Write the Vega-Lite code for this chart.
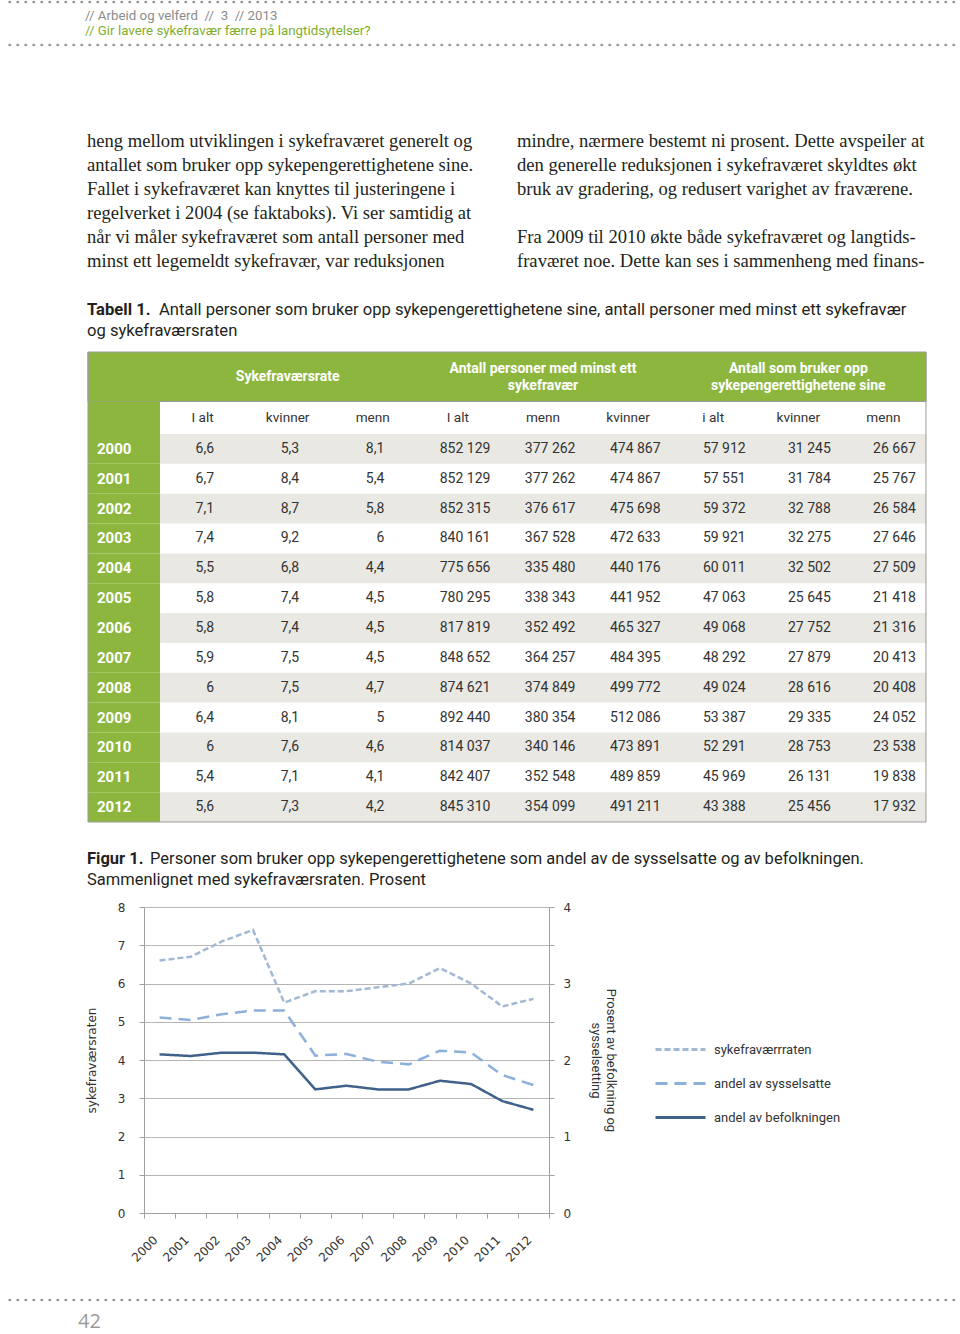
{
  "$schema": "https://vega.github.io/schema/vega-lite/v6.json",
  "background": "white",
  "padding": 0,
  "bounds": "flush",
  "spacing": 0,
  "config": {"view": {"stroke": null}, "font": "Roboto"},
  "resolve": {"scale": {"color": "independent", "strokeDash": "independent"}, "legend": {"color": "independent", "strokeDash": "independent"}},
  "vconcat": [
    {
      "width": 960, "height": 56,
      "data": {"values": [
        {"r": 0, "k": "rule"}, {"r": 3, "k": "rule"},
        {"r": 1, "k": "meta", "c": 0, "t": "// Arbeid og velferd\u00a0 //\u00a0 3\u00a0 // 2013"},
        {"r": 2, "k": "title", "c": 0, "t": "// Gir lavere sykefravær færre på langtidsytelser?"}
      ]},
      "layer": [
        {"transform": [{"filter": "datum.k==='rule'"}],
         "mark": {"type": "rule", "stroke": "#9b9b9b", "strokeWidth": 2.5, "strokeDash": [0.5, 7.5], "strokeCap": "round"},
         "encoding": {"y": {"field": "r", "type": "quantitative", "scale": {"domain": [-0.1395, 3.767], "reverse": true, "nice": false, "zero": false}, "axis": null}}},
        {"transform": [{"filter": "datum.k==='meta'"}],
         "mark": {"type": "text", "align": "left", "baseline": "middle", "font": "Roboto", "fontSize": 13.3, "dx": -3, "color": "#8c8c8c"},
         "encoding": {
           "x": {"field": "c", "type": "quantitative", "scale": {"domain": [-0.2, 2.0326], "nice": false, "zero": false}, "axis": null},
           "y": {"field": "r", "type": "quantitative", "scale": {"domain": [-0.1395, 3.767], "reverse": true, "nice": false, "zero": false}, "axis": null},
           "text": {"field": "t"}}},
        {"transform": [{"filter": "datum.k==='title'"}],
         "mark": {"type": "text", "align": "left", "baseline": "middle", "font": "Roboto", "fontSize": 13.3, "dx": -3, "color": "#7fae2e"},
         "encoding": {
           "x": {"field": "c", "type": "quantitative", "scale": {"domain": [-0.2, 2.0326], "nice": false, "zero": false}, "axis": null},
           "y": {"field": "r", "type": "quantitative", "scale": {"domain": [-0.1395, 3.767], "reverse": true, "nice": false, "zero": false}, "axis": null},
           "text": {"field": "t"}}}
      ]
    },
    {
      "width": 960, "height": 236,
      "data": {"values": [
        {"c": 0, "r": 1, "t": "heng mellom utviklingen i sykefraværet generelt og"},
        {"c": 0, "r": 2, "t": "antallet som bruker opp sykepengerettighetene sine."},
        {"c": 0, "r": 3, "t": "Fallet i sykefraværet kan knyttes til justeringene i"},
        {"c": 0, "r": 4, "t": "regelverket i 2004 (se faktaboks). Vi ser samtidig at"},
        {"c": 0, "r": 5, "t": "når vi måler sykefraværet som antall personer med"},
        {"c": 0, "r": 6, "t": "minst ett legemeldt sykefravær, var reduksjonen"},
        {"c": 1, "r": 1, "t": "mindre, nærmere bestemt ni prosent. Dette avspeiler at"},
        {"c": 1, "r": 2, "t": "den generelle reduksjonen i sykefraværet skyldtes økt"},
        {"c": 1, "r": 3, "t": "bruk av gradering, og redusert varighet av fraværene."},
        {"c": 1, "r": 5, "t": "Fra 2009 til 2010 økte både sykefraværet og langtids-"},
        {"c": 1, "r": 6, "t": "fraværet noe. Dette kan ses i sammenheng med finans-"}
      ]},
      "mark": {"type": "text", "align": "left", "baseline": "middle", "font": "Liberation Serif", "fontSize": 18.6, "dx": -1, "color": "#231f20"},
      "encoding": {
        "x": {"field": "c", "type": "quantitative", "scale": {"domain": [-0.2, 2.0326], "nice": false, "zero": false}, "axis": null},
        "y": {"field": "r", "type": "quantitative", "scale": {"domain": [-2.521, 7.312], "reverse": true, "nice": false, "zero": false}, "axis": null},
        "text": {"field": "t"}
      }
    },
    {
      "width": 960, "height": 51,
      "data": {"values": [
        {"c": 0, "r": 1, "k": "b", "t": "Tabell 1."},
        {"c": 0, "r": 1, "k": "a", "t": "Antall personer som bruker opp sykepengerettighetene sine, antall personer med minst ett sykefravær"},
        {"c": 0, "r": 2, "k": "n", "t": "og sykefraværsraten"}
      ]},
      "encoding": {
        "x": {"field": "c", "type": "quantitative", "scale": {"domain": [-0.2, 2.0326], "nice": false, "zero": false}, "axis": null},
        "y": {"field": "r", "type": "quantitative", "scale": {"domain": [0.1667, 2.595], "reverse": true, "nice": false, "zero": false}, "axis": null},
        "text": {"field": "t"}
      },
      "layer": [
        {"transform": [{"filter": "datum.k==='b'"}], "mark": {"type": "text", "align": "left", "baseline": "middle", "font": "Roboto", "fontSize": 16.6, "fontWeight": "bold", "dx": -1, "color": "#231f20"}},
        {"transform": [{"filter": "datum.k==='a'"}], "mark": {"type": "text", "align": "left", "baseline": "middle", "font": "Roboto", "fontSize": 16.6, "dx": 71, "color": "#231f20"}},
        {"transform": [{"filter": "datum.k==='n'"}], "mark": {"type": "text", "align": "left", "baseline": "middle", "font": "Roboto", "fontSize": 16.6, "dx": -1, "color": "#231f20"}}
      ]
    },
    {
      "width": 960, "height": 91,
      "data": {"values": [
        {"k": "g", "c": 2, "u": 0.5, "t": "Sykefraværsrate"},
        {"k": "g", "c": 5, "u": 0, "t": "Antall personer med minst ett\nsykefravær"},
        {"k": "g", "c": 8, "u": 0, "t": "Antall som bruker opp\nsykepengerettighetene sine"},
        {"k": "s", "c": 1, "u": 3, "t": "I alt"},
        {"k": "s", "c": 2, "u": 3, "t": "kvinner"},
        {"k": "s", "c": 3, "u": 3, "t": "menn"},
        {"k": "s", "c": 4, "u": 3, "t": "I alt"},
        {"k": "s", "c": 5, "u": 3, "t": "menn"},
        {"k": "s", "c": 6, "u": 3, "t": "kvinner"},
        {"k": "s", "c": 7, "u": 3, "t": "i alt"},
        {"k": "s", "c": 8, "u": 3, "t": "kvinner"},
        {"k": "s", "c": 9, "u": 3, "t": "menn"}
      ]},
      "layer": [
        {"data": {"values": [{}]},
         "mark": {"type": "rect", "fill": "#8db63f", "stroke": "#9a9a9a", "strokeWidth": 1},
         "encoding": {
           "x": {"datum": -0.346, "type": "quantitative", "scale": {"domain": [-1.3564, 9.9232], "nice": false, "zero": false}, "axis": null},
           "x2": {"datum": 9.5},
           "y": {"datum": -1, "type": "quantitative", "scale": {"domain": [-1.5455, 3.9697], "reverse": true, "nice": false, "zero": false}, "axis": null},
           "y2": {"datum": 2}}},
        {"data": {"values": [{}]},
         "mark": {"type": "rect", "fill": "#8db63f"},
         "encoding": {
           "x": {"datum": -0.346, "type": "quantitative", "scale": {"domain": [-1.3564, 9.9232], "nice": false, "zero": false}, "axis": null},
           "x2": {"datum": 0.5},
           "y": {"datum": 2, "type": "quantitative", "scale": {"domain": [-1.5455, 3.9697], "reverse": true, "nice": false, "zero": false}, "axis": null},
           "y2": {"datum": 3.9697}}},
        {"data": {"values": [{"e": -0.346}, {"e": 9.5}]},
         "mark": {"type": "rule", "stroke": "#9a9a9a", "strokeWidth": 1},
         "encoding": {
           "x": {"field": "e", "type": "quantitative", "scale": {"domain": [-1.3564, 9.9232], "nice": false, "zero": false}, "axis": null},
           "y": {"datum": -1, "type": "quantitative", "scale": {"domain": [-1.5455, 3.9697], "reverse": true, "nice": false, "zero": false}, "axis": null},
           "y2": {"datum": 3.9697}}},
        {"transform": [{"filter": "datum.k==='g'"}],
         "mark": {"type": "text", "align": "center", "baseline": "middle", "font": "Roboto", "fontSize": 14, "fontWeight": "bold", "color": "white", "lineBreak": "\n", "lineHeight": 17},
         "encoding": {
           "x": {"field": "c", "type": "quantitative", "scale": {"domain": [-1.3564, 9.9232], "nice": false, "zero": false}, "axis": null},
           "y": {"field": "u", "type": "quantitative", "scale": {"domain": [-1.5455, 3.9697], "reverse": true, "nice": false, "zero": false}, "axis": null},
           "text": {"field": "t"}}},
        {"transform": [{"filter": "datum.k==='s'"}],
         "mark": {"type": "text", "align": "center", "baseline": "middle", "font": "Roboto", "fontSize": 13.6, "color": "#333333"},
         "encoding": {
           "x": {"field": "c", "type": "quantitative", "scale": {"domain": [-1.3564, 9.9232], "nice": false, "zero": false}, "axis": null},
           "y": {"field": "u", "type": "quantitative", "scale": {"domain": [-1.5455, 3.9697], "reverse": true, "nice": false, "zero": false}, "axis": null},
           "text": {"field": "t"}}}
      ]
    },
    {
      "width": 960, "height": 388,
      "data": {"values": [
        {"y":"2000","c":1,"t":"6,6"},{"y":"2000","c":2,"t":"5,3"},{"y":"2000","c":3,"t":"8,1"},{"y":"2000","c":4,"t":"852 129"},{"y":"2000","c":5,"t":"377 262"},{"y":"2000","c":6,"t":"474 867"},{"y":"2000","c":7,"t":"57 912"},{"y":"2000","c":8,"t":"31 245"},{"y":"2000","c":9,"t":"26 667"},
        {"y":"2001","c":1,"t":"6,7"},{"y":"2001","c":2,"t":"8,4"},{"y":"2001","c":3,"t":"5,4"},{"y":"2001","c":4,"t":"852 129"},{"y":"2001","c":5,"t":"377 262"},{"y":"2001","c":6,"t":"474 867"},{"y":"2001","c":7,"t":"57 551"},{"y":"2001","c":8,"t":"31 784"},{"y":"2001","c":9,"t":"25 767"},
        {"y":"2002","c":1,"t":"7,1"},{"y":"2002","c":2,"t":"8,7"},{"y":"2002","c":3,"t":"5,8"},{"y":"2002","c":4,"t":"852 315"},{"y":"2002","c":5,"t":"376 617"},{"y":"2002","c":6,"t":"475 698"},{"y":"2002","c":7,"t":"59 372"},{"y":"2002","c":8,"t":"32 788"},{"y":"2002","c":9,"t":"26 584"},
        {"y":"2003","c":1,"t":"7,4"},{"y":"2003","c":2,"t":"9,2"},{"y":"2003","c":3,"t":"6"},{"y":"2003","c":4,"t":"840 161"},{"y":"2003","c":5,"t":"367 528"},{"y":"2003","c":6,"t":"472 633"},{"y":"2003","c":7,"t":"59 921"},{"y":"2003","c":8,"t":"32 275"},{"y":"2003","c":9,"t":"27 646"},
        {"y":"2004","c":1,"t":"5,5"},{"y":"2004","c":2,"t":"6,8"},{"y":"2004","c":3,"t":"4,4"},{"y":"2004","c":4,"t":"775 656"},{"y":"2004","c":5,"t":"335 480"},{"y":"2004","c":6,"t":"440 176"},{"y":"2004","c":7,"t":"60 011"},{"y":"2004","c":8,"t":"32 502"},{"y":"2004","c":9,"t":"27 509"},
        {"y":"2005","c":1,"t":"5,8"},{"y":"2005","c":2,"t":"7,4"},{"y":"2005","c":3,"t":"4,5"},{"y":"2005","c":4,"t":"780 295"},{"y":"2005","c":5,"t":"338 343"},{"y":"2005","c":6,"t":"441 952"},{"y":"2005","c":7,"t":"47 063"},{"y":"2005","c":8,"t":"25 645"},{"y":"2005","c":9,"t":"21 418"},
        {"y":"2006","c":1,"t":"5,8"},{"y":"2006","c":2,"t":"7,4"},{"y":"2006","c":3,"t":"4,5"},{"y":"2006","c":4,"t":"817 819"},{"y":"2006","c":5,"t":"352 492"},{"y":"2006","c":6,"t":"465 327"},{"y":"2006","c":7,"t":"49 068"},{"y":"2006","c":8,"t":"27 752"},{"y":"2006","c":9,"t":"21 316"},
        {"y":"2007","c":1,"t":"5,9"},{"y":"2007","c":2,"t":"7,5"},{"y":"2007","c":3,"t":"4,5"},{"y":"2007","c":4,"t":"848 652"},{"y":"2007","c":5,"t":"364 257"},{"y":"2007","c":6,"t":"484 395"},{"y":"2007","c":7,"t":"48 292"},{"y":"2007","c":8,"t":"27 879"},{"y":"2007","c":9,"t":"20 413"},
        {"y":"2008","c":1,"t":"6"},{"y":"2008","c":2,"t":"7,5"},{"y":"2008","c":3,"t":"4,7"},{"y":"2008","c":4,"t":"874 621"},{"y":"2008","c":5,"t":"374 849"},{"y":"2008","c":6,"t":"499 772"},{"y":"2008","c":7,"t":"49 024"},{"y":"2008","c":8,"t":"28 616"},{"y":"2008","c":9,"t":"20 408"},
        {"y":"2009","c":1,"t":"6,4"},{"y":"2009","c":2,"t":"8,1"},{"y":"2009","c":3,"t":"5"},{"y":"2009","c":4,"t":"892 440"},{"y":"2009","c":5,"t":"380 354"},{"y":"2009","c":6,"t":"512 086"},{"y":"2009","c":7,"t":"53 387"},{"y":"2009","c":8,"t":"29 335"},{"y":"2009","c":9,"t":"24 052"},
        {"y":"2010","c":1,"t":"6"},{"y":"2010","c":2,"t":"7,6"},{"y":"2010","c":3,"t":"4,6"},{"y":"2010","c":4,"t":"814 037"},{"y":"2010","c":5,"t":"340 146"},{"y":"2010","c":6,"t":"473 891"},{"y":"2010","c":7,"t":"52 291"},{"y":"2010","c":8,"t":"28 753"},{"y":"2010","c":9,"t":"23 538"},
        {"y":"2011","c":1,"t":"5,4"},{"y":"2011","c":2,"t":"7,1"},{"y":"2011","c":3,"t":"4,1"},{"y":"2011","c":4,"t":"842 407"},{"y":"2011","c":5,"t":"352 548"},{"y":"2011","c":6,"t":"489 859"},{"y":"2011","c":7,"t":"45 969"},{"y":"2011","c":8,"t":"26 131"},{"y":"2011","c":9,"t":"19 838"},
        {"y":"2012","c":1,"t":"5,6"},{"y":"2012","c":2,"t":"7,3"},{"y":"2012","c":3,"t":"4,2"},{"y":"2012","c":4,"t":"845 310"},{"y":"2012","c":5,"t":"354 099"},{"y":"2012","c":6,"t":"491 211"},{"y":"2012","c":7,"t":"43 388"},{"y":"2012","c":8,"t":"25 456"},{"y":"2012","c":9,"t":"17 932"}
      ]},
      "layer": [
        {"data": {"values": [{"y":"2000","s":1},{"y":"2001","s":0},{"y":"2002","s":1},{"y":"2003","s":0},{"y":"2004","s":1},{"y":"2005","s":0},{"y":"2006","s":1},{"y":"2007","s":0},{"y":"2008","s":1},{"y":"2009","s":0},{"y":"2010","s":1},{"y":"2011","s":0},{"y":"2012","s":1}]},
         "layer": [
           {"mark": {"type": "rect", "fill": "#8db63f"},
            "encoding": {
              "x": {"datum": -0.346, "type": "quantitative", "scale": {"domain": [-1.3564, 9.9232], "nice": false, "zero": false}, "axis": null},
              "x2": {"datum": 0.5},
              "y": {"field": "y", "type": "ordinal", "scale": {"type": "band", "paddingInner": 0, "paddingOuter": 0}, "axis": null}}},
           {"transform": [{"filter": "datum.s===1"}],
            "mark": {"type": "rect", "fill": "#e9e8e3"},
            "encoding": {
              "x": {"datum": 0.5, "type": "quantitative", "scale": {"domain": [-1.3564, 9.9232], "nice": false, "zero": false}, "axis": null},
              "x2": {"datum": 9.5},
              "y": {"field": "y", "type": "ordinal", "scale": {"type": "band", "paddingInner": 0, "paddingOuter": 0}, "axis": null}}},
           {"mark": {"type": "text", "align": "left", "baseline": "middle", "font": "Roboto", "fontSize": 15, "fontWeight": "bold", "color": "white", "dx": 9},
            "encoding": {
              "x": {"datum": -0.346, "type": "quantitative", "scale": {"domain": [-1.3564, 9.9232], "nice": false, "zero": false}, "axis": null},
              "y": {"field": "y", "type": "ordinal", "scale": {"type": "band", "paddingInner": 0, "paddingOuter": 0}, "axis": null},
              "text": {"field": "y"}}}
         ]},
        {"transform": [{"filter": "datum.c<=3"}],
         "mark": {"type": "text", "align": "right", "baseline": "middle", "font": "Roboto", "fontSize": 14, "color": "#333333", "dx": 11.5},
         "encoding": {
           "x": {"field": "c", "type": "quantitative", "scale": {"domain": [-1.3564, 9.9232], "nice": false, "zero": false}, "axis": null},
           "y": {"field": "y", "type": "ordinal", "scale": {"type": "band", "paddingInner": 0, "paddingOuter": 0}, "axis": null},
           "text": {"field": "t"}}},
        {"transform": [{"filter": "datum.c>=4"}],
         "mark": {"type": "text", "align": "right", "baseline": "middle", "font": "Roboto", "fontSize": 14, "color": "#333333", "dx": 32.5},
         "encoding": {
           "x": {"field": "c", "type": "quantitative", "scale": {"domain": [-1.3564, 9.9232], "nice": false, "zero": false}, "axis": null},
           "y": {"field": "y", "type": "ordinal", "scale": {"type": "band", "paddingInner": 0, "paddingOuter": 0}, "axis": null},
           "text": {"field": "t"}}},
        {"data": {"values": [{"e": -0.346}, {"e": 9.5}]},
         "mark": {"type": "rule", "stroke": "#9a9a9a", "strokeWidth": 1},
         "encoding": {
           "x": {"field": "e", "type": "quantitative", "scale": {"domain": [-1.3564, 9.9232], "nice": false, "zero": false}, "axis": null}}},
        {"data": {"values": [{}]},
         "mark": {"type": "rule", "stroke": "#9a9a9a", "strokeWidth": 1},
         "encoding": {
           "x": {"datum": -0.346, "type": "quantitative", "scale": {"domain": [-1.3564, 9.9232], "nice": false, "zero": false}, "axis": null},
           "x2": {"datum": 9.5},
           "y": {"datum": "2012", "type": "ordinal", "bandPosition": 1, "scale": {"type": "band", "paddingInner": 0, "paddingOuter": 0}, "axis": null}}}
      ]
    },
    {
      "width": 960, "height": 85,
      "data": {"values": [
        {"c": 0, "r": 1, "k": "b", "t": "Figur 1."},
        {"c": 0, "r": 1, "k": "a", "t": "Personer som bruker opp sykepengerettighetene som andel av de sysselsatte og av befolkningen."},
        {"c": 0, "r": 2, "k": "n", "t": "Sammenlignet med sykefraværsraten. Prosent"}
      ]},
      "encoding": {
        "x": {"field": "c", "type": "quantitative", "scale": {"domain": [-0.2, 2.0326], "nice": false, "zero": false}, "axis": null},
        "y": {"field": "r", "type": "quantitative", "scale": {"domain": [-0.7857, 3.262], "reverse": true, "nice": false, "zero": false}, "axis": null},
        "text": {"field": "t"}
      },
      "layer": [
        {"transform": [{"filter": "datum.k==='b'"}], "mark": {"type": "text", "align": "left", "baseline": "middle", "font": "Roboto", "fontSize": 16.5, "fontWeight": "bold", "dx": -1, "color": "#231f20"}},
        {"transform": [{"filter": "datum.k==='a'"}], "mark": {"type": "text", "align": "left", "baseline": "middle", "font": "Roboto", "fontSize": 16.5, "dx": 62, "color": "#231f20"}},
        {"transform": [{"filter": "datum.k==='n'"}], "mark": {"type": "text", "align": "left", "baseline": "middle", "font": "Roboto", "fontSize": 16.5, "dx": -1, "color": "#231f20"}}
      ]
    },
    {
      "spacing": 0,
      "bounds": "flush",
      "resolve": {"scale": {"color": "independent", "strokeDash": "independent"}, "legend": {"color": "independent", "strokeDash": "independent"}},
      "hconcat": [
        {"width": 142, "height": 306, "data": {"values": [{}]}, "mark": {"type": "text"}, "encoding": {"text": {"value": ""}}},
        {
          "width": 405, "height": 306,
          "data": {"values": [
            {"year":"2000","series":"sykefraværrraten","axis":"L","v":6.6},
            {"year":"2001","series":"sykefraværrraten","axis":"L","v":6.7},
            {"year":"2002","series":"sykefraværrraten","axis":"L","v":7.1},
            {"year":"2003","series":"sykefraværrraten","axis":"L","v":7.4},
            {"year":"2004","series":"sykefraværrraten","axis":"L","v":5.5},
            {"year":"2005","series":"sykefraværrraten","axis":"L","v":5.8},
            {"year":"2006","series":"sykefraværrraten","axis":"L","v":5.8},
            {"year":"2007","series":"sykefraværrraten","axis":"L","v":5.9},
            {"year":"2008","series":"sykefraværrraten","axis":"L","v":6.0},
            {"year":"2009","series":"sykefraværrraten","axis":"L","v":6.4},
            {"year":"2010","series":"sykefraværrraten","axis":"L","v":6.0},
            {"year":"2011","series":"sykefraværrraten","axis":"L","v":5.4},
            {"year":"2012","series":"sykefraværrraten","axis":"L","v":5.6},
            {"year":"2000","series":"andel av sysselsatte","axis":"R","v":2.555},
            {"year":"2001","series":"andel av sysselsatte","axis":"R","v":2.524},
            {"year":"2002","series":"andel av sysselsatte","axis":"R","v":2.598},
            {"year":"2003","series":"andel av sysselsatte","axis":"R","v":2.646},
            {"year":"2004","series":"andel av sysselsatte","axis":"R","v":2.646},
            {"year":"2005","series":"andel av sysselsatte","axis":"R","v":2.057},
            {"year":"2006","series":"andel av sysselsatte","axis":"R","v":2.079},
            {"year":"2007","series":"andel av sysselsatte","axis":"R","v":1.978},
            {"year":"2008","series":"andel av sysselsatte","axis":"R","v":1.943},
            {"year":"2009","series":"andel av sysselsatte","axis":"R","v":2.122},
            {"year":"2010","series":"andel av sysselsatte","axis":"R","v":2.096},
            {"year":"2011","series":"andel av sysselsatte","axis":"R","v":1.803},
            {"year":"2012","series":"andel av sysselsatte","axis":"R","v":1.672},
            {"year":"2000","series":"andel av befolkningen","axis":"R","v":2.074},
            {"year":"2001","series":"andel av befolkningen","axis":"R","v":2.052},
            {"year":"2002","series":"andel av befolkningen","axis":"R","v":2.096},
            {"year":"2003","series":"andel av befolkningen","axis":"R","v":2.096},
            {"year":"2004","series":"andel av befolkningen","axis":"R","v":2.074},
            {"year":"2005","series":"andel av befolkningen","axis":"R","v":1.616},
            {"year":"2006","series":"andel av befolkningen","axis":"R","v":1.664},
            {"year":"2007","series":"andel av befolkningen","axis":"R","v":1.616},
            {"year":"2008","series":"andel av befolkningen","axis":"R","v":1.616},
            {"year":"2009","series":"andel av befolkningen","axis":"R","v":1.729},
            {"year":"2010","series":"andel av befolkningen","axis":"R","v":1.686},
            {"year":"2011","series":"andel av befolkningen","axis":"R","v":1.463},
            {"year":"2012","series":"andel av befolkningen","axis":"R","v":1.349}
          ]},
          "encoding": {
            "x": {"field": "year", "type": "ordinal", "scale": {"type": "band", "paddingInner": 0, "paddingOuter": 0},
                  "axis": {"title": null, "labelAngle": -45, "tickBand": "extent", "grid": false, "domainColor": "#a0a0a0", "tickColor": "#a0a0a0", "tickSize": 5, "labelFont": "DejaVu Sans", "labelFontSize": 12, "labelColor": "#333333", "labelPadding": 16, "labelOffset": -8}},
            "color": {"field": "series", "type": "nominal",
                      "scale": {"domain": ["sykefraværrraten", "andel av sysselsatte", "andel av befolkningen"], "range": ["#a2b9d4", "#8cb0d9", "#3f628b"]},
                      "legend": {"orient": "none", "legendX": 510, "legendY": 116, "title": null, "symbolType": "stroke", "symbolSize": 2500, "symbolStrokeWidth": 3, "labelFont": "Roboto", "labelFontSize": 13, "labelColor": "#333333", "labelOffset": 7, "rowPadding": -18}},
            "strokeDash": {"field": "series", "type": "nominal",
                           "scale": {"domain": ["sykefraværrraten", "andel av sysselsatte", "andel av befolkningen"], "range": [[6, 3], [12, 7], [1, 0]]},
                           "legend": {"orient": "none", "legendX": 510, "legendY": 116, "title": null, "symbolType": "stroke", "symbolSize": 2500, "symbolStrokeWidth": 3, "labelFont": "Roboto", "labelFontSize": 13, "labelColor": "#333333", "labelOffset": 7, "rowPadding": -18}}
          },
          "layer": [
            {"transform": [{"filter": "datum.axis==='L'"}],
             "mark": {"type": "line", "strokeWidth": 2.5},
             "encoding": {
               "y": {"field": "v", "type": "quantitative", "scale": {"domain": [0, 8], "nice": false},
                     "axis": {"orient": "left", "values": [0,1,2,3,4,5,6,7,8], "grid": true, "gridColor": "#b5b5b5", "gridWidth": 1, "domainColor": "#a0a0a0", "tickColor": "#a0a0a0", "tickSize": 5, "labelFont": "DejaVu Sans", "labelFontSize": 12, "labelColor": "#333333", "labelPadding": 14, "title": "sykefraværsraten", "titleFont": "DejaVu Sans", "titleFontSize": 12, "titleFontWeight": "normal", "titleColor": "#333333", "titlePadding": 19}}}},
            {"transform": [{"filter": "datum.axis==='R'"}],
             "mark": {"type": "line", "strokeWidth": 2.5},
             "encoding": {
               "y": {"field": "v", "type": "quantitative", "scale": {"domain": [0, 4], "nice": false},
                     "axis": {"orient": "right", "values": [0,0.5,1,1.5,2,2.5,3,3.5,4], "labelExpr": "datum.value % 1 === 0 ? format(datum.value, 'd') : ''", "grid": false, "domainColor": "#a0a0a0", "tickColor": "#a0a0a0", "tickSize": 5, "labelFont": "DejaVu Sans", "labelFontSize": 12, "labelColor": "#333333", "labelPadding": 9, "title": ["Prosent av befolkning og", "sysselsetting"], "titleFont": "Roboto", "titleFontSize": 13, "titleFontWeight": "normal", "titleColor": "#333333", "titlePadding": 18}}}}
          ],
          "resolve": {"scale": {"y": "independent"}}
        }
      ]
    },
    {
      "width": 960, "height": 427,
      "data": {"values": [{"r": 0, "k": "rule"}, {"r": 1, "k": "pg", "c": 0, "t": "42"}]},
      "layer": [
        {"transform": [{"filter": "datum.k==='rule'"}],
         "mark": {"type": "rule", "stroke": "#9b9b9b", "strokeWidth": 2.5, "strokeDash": [0.5, 7.5], "strokeCap": "round"},
         "encoding": {"y": {"field": "r", "type": "quantitative", "scale": {"domain": [-17.864, 1.545], "reverse": true, "nice": false, "zero": false}, "axis": null}}},
        {"transform": [{"filter": "datum.k==='pg'"}],
         "mark": {"type": "text", "align": "left", "baseline": "middle", "font": "Open Sans", "fontSize": 20, "color": "#9a9a9a", "dx": -10},
         "encoding": {
           "x": {"field": "c", "type": "quantitative", "scale": {"domain": [-0.2, 2.0326], "nice": false, "zero": false}, "axis": null},
           "y": {"field": "r", "type": "quantitative", "scale": {"domain": [-17.864, 1.545], "reverse": true, "nice": false, "zero": false}, "axis": null},
           "text": {"field": "t"}}}
      ]
    }
  ]
}
